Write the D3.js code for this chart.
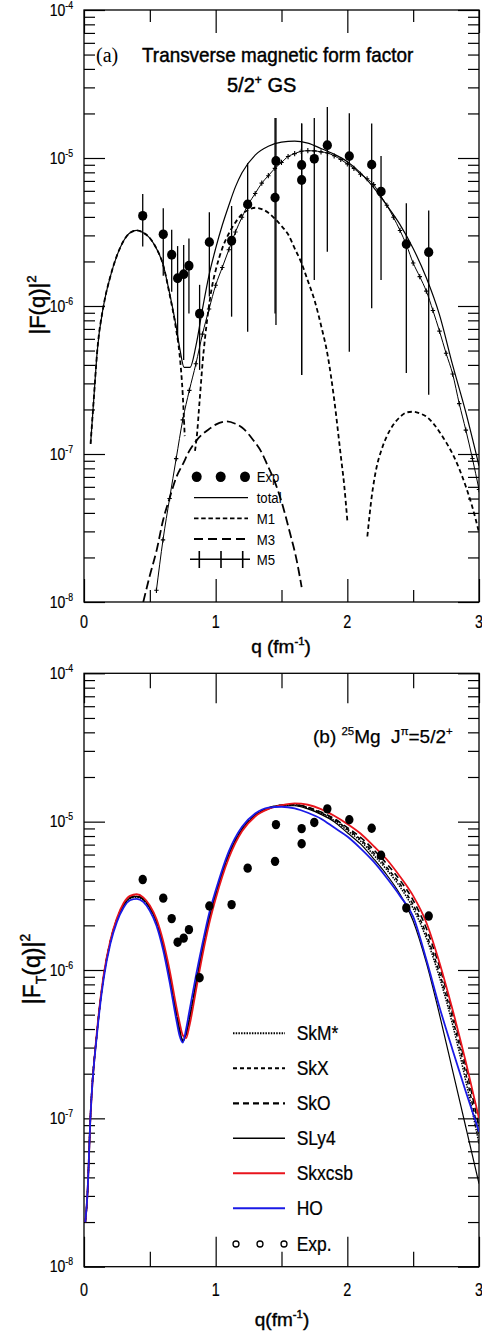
<!DOCTYPE html>
<html><head><meta charset="utf-8">
<script src="https://cdn.jsdelivr.net/npm/d3@7"></script>
<style>body{margin:0;background:#fff}svg{display:block}text{white-space:pre}</style>
</head><body>
<svg id="c" width="482" height="1335"></svg>
<script>
// ---------------- data ----------------
const expQ  = [0.446,0.602,0.666,0.711,0.757,0.797,0.878,0.952,1.121,1.243,1.451,1.458,1.653,1.653,1.749,1.848,2.015,2.185,2.256,2.448,2.618];
const expF  = [4.07e-6,3.05e-6,2.22e-6,1.54e-6,1.64e-6,1.87e-6,8.87e-7,2.70e-6,2.76e-6,4.86e-6,5.40e-6,9.55e-6,8.97e-6,7.10e-6,9.88e-6,1.22e-5,1.03e-5,9.02e-6,5.93e-6,2.62e-6,2.31e-6];
const expHi = [5.71e-6,4.57e-6,3.27e-6,2.54e-6,2.58e-6,2.86e-6,1.39e-6,4.30e-6,4.74e-6,9.2e-6,1.86e-5,1.86e-5,1.71e-5,1.71e-5,1.86e-5,2.21e-5,2.01e-5,1.71e-5,1.03e-5,4.94e-6,4.41e-6];
const expLo = [2.52e-6,1.60e-6,1.25e-6,5.89e-7,4.32e-7,8.9e-7,3.70e-7,1.16e-6,8.47e-7,6.70e-7,8.9e-7,7.45e-7,3.42e-7,3.42e-7,1.50e-6,2.33e-6,4.91e-7,9.64e-7,1.50e-6,3.52e-7,2.51e-7];

const totalQ = [0.05,0.075,0.1,0.15,0.2,0.25,0.3,0.35,0.4,0.45,0.5,0.55,0.6,0.65,0.7,0.73,0.76,0.805,0.85,0.9,0.95,1.0,1.05,1.1,1.15,1.2,1.3,1.4,1.5,1.6,1.7,1.8,1.9,2.0,2.1,2.2,2.3,2.4,2.5,2.6,2.7,2.8,2.9,3.0];
const totalF = [1.17e-7,2.40e-7,4.90e-7,1.02e-6,1.58e-6,2.19e-6,2.75e-6,3.13e-6,3.24e-6,3.13e-6,2.88e-6,2.45e-6,1.91e-6,1.22e-6,7.24e-7,5.01e-7,3.85e-7,3.85e-7,5.37e-7,9.55e-7,1.62e-6,2.45e-6,3.51e-6,4.79e-6,6.38e-6,7.94e-6,1.047e-5,1.20e-5,1.28e-5,1.30e-5,1.26e-5,1.16e-5,1.06e-5,9.44e-6,7.94e-6,6.31e-6,4.79e-6,3.55e-6,2.45e-6,1.55e-6,8.71e-7,3.98e-7,1.91e-7,8.32e-8];

const m1aQ = [0.05,0.075,0.1,0.15,0.2,0.25,0.3,0.35,0.4,0.45,0.5,0.55,0.6,0.65,0.7,0.725,0.75,0.765];
const m1aF = [1.17e-7,2.40e-7,4.90e-7,1.02e-6,1.58e-6,2.19e-6,2.75e-6,3.13e-6,3.24e-6,3.13e-6,2.88e-6,2.45e-6,1.91e-6,1.20e-6,6.92e-7,4.79e-7,2.51e-7,1.32e-7];
const m1bQ = [0.843,0.86,0.873,0.886,0.9,0.92,0.94,0.97,1.0,1.05,1.1,1.15,1.2,1.25,1.3,1.35,1.4,1.45,1.5,1.55,1.6,1.65,1.7,1.75,1.8,1.85,1.9,1.95,1.975,2.0];
const m1bF = [1.05e-7,1.41e-7,2.00e-7,2.82e-7,4.07e-7,6.17e-7,8.71e-7,1.32e-6,1.74e-6,2.45e-6,3.09e-6,3.67e-6,4.17e-6,4.47e-6,4.61e-6,4.52e-6,4.27e-6,3.89e-6,3.47e-6,3.05e-6,2.45e-6,1.97e-6,1.48e-6,1.10e-6,7.41e-7,4.68e-7,2.34e-7,9.77e-8,6.31e-8,3.55e-8];
const m1cQ = [2.152,2.185,2.223,2.26,2.3,2.35,2.4,2.45,2.5,2.55,2.6,2.65,2.7,2.75,2.8,2.85,2.9,2.95,3.0];
const m1cF = [2.77e-8,5.13e-8,8.20e-8,1.07e-7,1.32e-7,1.58e-7,1.78e-7,1.91e-7,1.93e-7,1.88e-7,1.79e-7,1.62e-7,1.41e-7,1.20e-7,1.00e-7,7.94e-8,6.03e-8,4.37e-8,2.95e-8];

const m3Q = [0.45,0.5,0.552,0.6,0.653,0.7,0.754,0.8,0.856,0.957,1.0,1.084,1.15,1.2,1.286,1.35,1.387,1.45,1.489,1.565,1.615,1.653];
const m3F = [1.00e-8,1.51e-8,2.24e-8,3.55e-8,5.13e-8,6.92e-8,8.65e-8,1.05e-7,1.24e-7,1.49e-7,1.58e-7,1.66e-7,1.60e-7,1.51e-7,1.24e-7,1.02e-7,8.65e-8,6.46e-8,5.13e-8,2.91e-8,1.92e-8,1.26e-8];

const m5Q = [0.55,0.6,0.65,0.7,0.75,0.8,0.85,0.9,0.95,1.0,1.05,1.1,1.15,1.2,1.25,1.3,1.35,1.4,1.45,1.5,1.55,1.6,1.65,1.7,1.75,1.8,1.85,1.9,1.95,2.0,2.05,2.1,2.15,2.2,2.25,2.3,2.35,2.4,2.45,2.5,2.55,2.6,2.65,2.7,2.75,2.8,2.85,2.9,2.95,3.0];
const m5F = [1.20e-8,2.63e-8,5.0e-8,9.3e-8,1.70e-7,2.69e-7,4.07e-7,6.46e-7,9.55e-7,1.38e-6,1.82e-6,2.40e-6,3.16e-6,3.98e-6,4.90e-6,5.75e-6,6.76e-6,7.59e-6,8.51e-6,9.33e-6,1.023e-5,1.07e-5,1.11e-5,1.12e-5,1.117e-5,1.10e-5,1.08e-5,1.035e-5,9.77e-6,9.12e-6,8.51e-6,7.76e-6,7.24e-6,6.61e-6,5.62e-6,4.79e-6,3.98e-6,3.24e-6,2.57e-6,1.95e-6,1.58e-6,1.26e-6,9.33e-7,6.76e-7,4.79e-7,3.47e-7,2.19e-7,1.45e-7,9.33e-8,5.75e-8];

// panel (b) models on a common q grid
const modelQ = [0.01,0.025,0.05,0.1,0.15,0.2,0.25,0.3,0.35,0.4,0.45,0.5,0.55,0.6,0.65,0.7,0.725,0.75,0.775,0.8,0.85,0.9,0.95,1.0,1.1,1.2,1.3,1.4,1.5,1.6,1.7,1.8,1.9,2.0,2.1,2.2,2.3,2.4,2.5,2.6,2.7,2.8,2.9,3.0];
const skmStarF = [2.00e-8,2.95e-8,1.07e-7,3.87e-7,9.05e-7,1.54e-6,2.17e-6,2.70e-6,3.03e-6,3.10e-6,2.96e-6,2.60e-6,2.08e-6,1.46e-6,9.00e-7,5.08e-7,3.95e-7,3.30e-7,3.68e-7,4.60e-7,8.00e-7,1.36e-6,2.21e-6,3.21e-6,5.98e-6,8.85e-6,1.105e-5,1.225e-5,1.285e-5,1.29e-5,1.235e-5,1.135e-5,1.02e-5,8.71e-6,7.41e-6,5.96e-6,4.73e-6,3.63e-6,2.60e-6,1.64e-6,8.91e-7,4.27e-7,1.78e-7,6.76e-8];
const skxF = [2.00e-8,2.95e-8,1.07e-7,3.89e-7,9.12e-7,1.55e-6,2.19e-6,2.72e-6,3.05e-6,3.13e-6,2.99e-6,2.63e-6,2.11e-6,1.48e-6,9.12e-7,5.13e-7,3.98e-7,3.31e-7,3.72e-7,4.68e-7,8.13e-7,1.38e-6,2.24e-6,3.24e-6,6.03e-6,8.91e-6,1.109e-5,1.23e-5,1.29e-5,1.30e-5,1.245e-5,1.148e-5,1.035e-5,8.91e-6,7.59e-6,6.17e-6,4.90e-6,3.80e-6,2.75e-6,1.74e-6,9.55e-7,4.68e-7,2.00e-7,7.59e-8];
const skoF = [2.00e-8,2.95e-8,1.07e-7,3.92e-7,9.20e-7,1.56e-6,2.21e-6,2.75e-6,3.08e-6,3.16e-6,3.02e-6,2.66e-6,2.14e-6,1.51e-6,9.30e-7,5.20e-7,4.02e-7,3.34e-7,3.70e-7,4.60e-7,7.90e-7,1.35e-6,2.20e-6,3.20e-6,5.98e-6,8.87e-6,1.108e-5,1.235e-5,1.295e-5,1.30e-5,1.25e-5,1.16e-5,1.05e-5,9.12e-6,7.85e-6,6.46e-6,5.19e-6,4.03e-6,2.95e-6,1.91e-6,1.05e-6,5.13e-7,2.24e-7,8.71e-8];
const sly4F = [2.00e-8,2.95e-8,1.07e-7,3.90e-7,9.15e-7,1.55e-6,2.19e-6,2.73e-6,3.06e-6,3.14e-6,3.00e-6,2.64e-6,2.12e-6,1.49e-6,9.20e-7,5.16e-7,4.00e-7,3.32e-7,3.70e-7,4.64e-7,8.05e-7,1.37e-6,2.22e-6,3.22e-6,6.00e-6,8.88e-6,1.10e-5,1.22e-5,1.28e-5,1.28e-5,1.22e-5,1.12e-5,1.00e-5,8.41e-6,7.08e-6,5.62e-6,4.37e-6,3.24e-6,2.14e-6,1.12e-6,5.01e-7,2.09e-7,8.71e-8,3.63e-8];
const skxcsbF = [2.00e-8,2.95e-8,1.07e-7,3.98e-7,9.33e-7,1.58e-6,2.24e-6,2.82e-6,3.16e-6,3.24e-6,3.09e-6,2.72e-6,2.21e-6,1.58e-6,1.00e-6,5.75e-7,4.47e-7,3.63e-7,3.47e-7,4.17e-7,7.24e-7,1.26e-6,2.04e-6,3.02e-6,5.69e-6,8.61e-6,1.084e-5,1.216e-5,1.29e-5,1.33e-5,1.30e-5,1.216e-5,1.096e-5,9.66e-6,8.32e-6,6.84e-6,5.56e-6,4.27e-6,3.16e-6,2.09e-6,1.12e-6,5.37e-7,2.40e-7,1.00e-7];
const hoF = [2.00e-8,2.95e-8,1.07e-7,3.80e-7,8.81e-7,1.50e-6,2.11e-6,2.63e-6,2.95e-6,3.02e-6,2.88e-6,2.51e-6,2.00e-6,1.38e-6,8.32e-7,4.68e-7,3.63e-7,3.24e-7,3.98e-7,5.25e-7,9.12e-7,1.51e-6,2.40e-6,3.43e-6,6.31e-6,9.23e-6,1.135e-5,1.245e-5,1.26e-5,1.23e-5,1.148e-5,1.047e-5,9.12e-6,7.94e-6,6.61e-6,5.37e-6,4.17e-6,3.16e-6,2.29e-6,1.175e-6,5.62e-7,2.88e-7,1.51e-7,8.13e-8];

const legendA = ["Exp","total","M1","M3","M5"];
const legendB = ["SkM*","SkX","SkO","SLy4","Skxcsb","HO","Exp."];
const xTickVals = [0,1,2,3];
const xMinorVals = [0.5,1.5,2.5];
const yDecades = [-8,-7,-6,-5,-4];

// ---------------- helpers ----------------
const svg = d3.select("#c");
const SANS = "'Liberation Sans', Arial, Helvetica, sans-serif";
const SERIF = "'Liberation Serif', 'Times New Roman', serif";

function label(parent, x, y, parts, o = {}) {
  const size = o.size || 14;
  const t = parent.append("text")
    .attr("transform", `translate(${x},${y})` + (o.rot ? ` rotate(${o.rot})` : "") + ` scale(${o.sx || 1},1)`)
    .attr("text-anchor", o.anchor || "start")
    .attr("font-family", o.family || SANS)
    .attr("font-size", size)
    .attr("fill", "#000");
  if (o.stroke) t.attr("stroke", "#000").attr("stroke-width", o.stroke);
  const subScale = o.subScale || 0.6;
  let shift = 0;
  for (const p of parts) {
    const [s, k] = Array.isArray(p) ? p : [p, ""];
    const target = k === "sup" ? -0.42 * size : (k === "sub" ? 0.28 * size : 0);
    t.append("tspan").attr("dy", target - shift).attr("font-size", k ? size * subScale : size).text(s);
    shift = target;
  }
  return t;
}

function panel(x, y, id, xMajLen, xMinLen, labelY) {
  const g = svg.append("g");
  const [x0, x1] = x.range();
  const [y0, y1] = y.range(); // y0 bottom, y1 top
  g.append("clipPath").attr("id", id).append("rect")
    .attr("x", x0).attr("y", y1).attr("width", x1 - x0).attr("height", y0 - y1);
  const yMaj = yDecades.map(d => Math.pow(10, d));
  const yMin = [];
  yDecades.slice(0, -1).forEach(d => { for (let k = 2; k <= 9; k++) yMin.push(k * Math.pow(10, d)); });
  const styleAxis = sel => { sel.select(".domain").remove(); sel.selectAll("line").attr("stroke", "#000").attr("stroke-width", 1.2); sel.selectAll("text").remove(); };
  g.append("g").attr("transform", `translate(${x0},0)`).call(d3.axisLeft(y).tickValues(yMaj).tickSize(-21)).call(styleAxis);
  g.append("g").attr("transform", `translate(${x0},0)`).call(d3.axisLeft(y).tickValues(yMin).tickSize(-11)).call(styleAxis);
  g.append("g").attr("transform", `translate(${x1},0)`).call(d3.axisRight(y).tickValues(yMaj).tickSize(-21)).call(styleAxis);
  g.append("g").attr("transform", `translate(${x1},0)`).call(d3.axisRight(y).tickValues(yMin).tickSize(-11)).call(styleAxis);
  g.append("g").attr("transform", `translate(0,${y0})`).call(d3.axisBottom(x).tickValues(xTickVals).tickSize(-xMajLen)).call(styleAxis);
  g.append("g").attr("transform", `translate(0,${y0})`).call(d3.axisBottom(x).tickValues(xMinorVals).tickSize(-xMinLen)).call(styleAxis);
  g.append("g").attr("transform", `translate(0,${y1})`).call(d3.axisTop(x).tickValues(xTickVals).tickSize(-xMajLen)).call(styleAxis);
  g.append("g").attr("transform", `translate(0,${y1})`).call(d3.axisTop(x).tickValues(xMinorVals).tickSize(-xMinLen)).call(styleAxis);
  g.append("rect").attr("x", x0).attr("y", y1).attr("width", x1 - x0).attr("height", y0 - y1)
    .attr("fill", "none").attr("stroke", "#000").attr("stroke-width", 1.3);
  yDecades.forEach(d => label(g, 73, y(Math.pow(10, d)) + 5.5, ["10", ["-" + Math.abs(d), "sup"]], {size: 16.5, sx: 0.85, anchor: "end", subScale: 0.62, stroke: 0.2}));
  xTickVals.forEach(v => label(g, x(v), labelY, [String(v)], {size: 18, sx: 0.8, anchor: "middle", stroke: 0.2}));
  return g;
}

function drawLine(g, x, y, qs, fs, st) {
  const line = d3.line().x(d => x(d[0])).y(d => y(d[1])).curve(d3.curveMonotoneX);
  return g.append("path").datum(d3.zip(qs, fs)).attr("d", line)
    .attr("fill", "none").attr("stroke", st.color || "#000").attr("stroke-width", st.width || 1.2)
    .attr("stroke-dasharray", st.dash || null);
}

// ---------------- panel (a) ----------------
const xA = d3.scaleLinear().domain([0, 3]).range([84, 479]);
const yA = d3.scaleLog().domain([1e-8, 1e-4]).range([602, 10]);
const gA = panel(xA, yA, "clipA", 23, 12, 628);
const cA = gA.append("g").attr("clip-path", "url(#clipA)");

drawLine(cA, xA, yA, totalQ, totalF, {width: 1.2});
drawLine(cA, xA, yA, m1aQ, m1aF, {width: 1.8, dash: "4.5,3"});
drawLine(cA, xA, yA, m1bQ, m1bF, {width: 1.8, dash: "4.5,3"});
drawLine(cA, xA, yA, m1cQ, m1cF, {width: 1.8, dash: "4.5,3"});
drawLine(cA, xA, yA, m3Q, m3F, {width: 1.8, dash: "9,4"});
drawLine(cA, xA, yA, m5Q, m5F, {width: 1.0});
// M5 + markers
const m5pts = d3.zip(m5Q, m5F);
cA.selectAll("path.m5mark").data(m5pts).join("path").attr("class", "m5mark")
  .attr("d", d => { const px = xA(d[0]), py = yA(d[1]); return `M${px - 2.2},${py}H${px + 2.2}M${px},${py - 2.6}V${py + 2.6}`; })
  .attr("stroke", "#000").attr("stroke-width", 1.1);
// error bars + points
const expPts = d3.zip(expQ, expF, expLo, expHi);
cA.selectAll("line.err").data(expPts).join("line").attr("class", "err")
  .attr("x1", d => xA(d[0])).attr("x2", d => xA(d[0]))
  .attr("y1", d => yA(d[2])).attr("y2", d => yA(d[3]))
  .attr("stroke", "#000").attr("stroke-width", 1.3);
cA.selectAll("ellipse.pt").data(expPts).join("ellipse").attr("class", "pt")
  .attr("cx", d => xA(d[0])).attr("cy", d => yA(d[1])).attr("rx", 4.6).attr("ry", 4.9).attr("fill", "#000");

// legend (a)
const lgA = gA.append("g");
[196.7, 220.7, 245].forEach(cx => lgA.append("ellipse").attr("cx", cx).attr("cy", 476.7).attr("rx", 5).attr("ry", 5.3).attr("fill", "#000"));
lgA.append("line").attr("x1", 194).attr("x2", 248).attr("y1", 497.7).attr("y2", 497.7).attr("stroke", "#000").attr("stroke-width", 1.2);
lgA.append("line").attr("x1", 194).attr("x2", 248).attr("y1", 518.3).attr("y2", 518.3).attr("stroke", "#000").attr("stroke-width", 1.8).attr("stroke-dasharray", "4.5,2.7");
lgA.append("line").attr("x1", 194).attr("x2", 248).attr("y1", 539).attr("y2", 539).attr("stroke", "#000").attr("stroke-width", 1.8).attr("stroke-dasharray", "9,5");
lgA.append("line").attr("x1", 190).attr("x2", 250).attr("y1", 559.3).attr("y2", 559.3).attr("stroke", "#000").attr("stroke-width", 1.4);
[199.3, 221, 242.7].forEach(tx => lgA.append("line").attr("x1", tx).attr("x2", tx).attr("y1", 551).attr("y2", 568).attr("stroke", "#000").attr("stroke-width", 1.6));
[476.7, 497.7, 518.3, 539, 559.3].forEach((ly, i) => label(lgA, 256.7, ly + 5.5, [legendA[i]], {size: 15.5, sx: 0.85}));

// titles (a)
label(svg, 96, 62, ["(a)"], {size: 20, family: SERIF});
label(svg, 142, 62, ["Transverse magnetic form factor"], {size: 21, sx: 0.9, stroke: 0.45});
label(svg, 227, 92, ["5/2", ["+", "sup"], " GS"], {size: 20, stroke: 0.45});
label(svg, 281, 653, ["q (fm", ["-1", "sup"], ")"], {size: 19, anchor: "middle", stroke: 0.4});
label(svg, 45, 305, ["|F(q)|", ["2", "sup"]], {size: 22, anchor: "middle", rot: -90, stroke: 0.45});

// ---------------- panel (b) ----------------
const xB = d3.scaleLinear().domain([0, 3]).range([84, 479]);
const yB = d3.scaleLog().domain([1e-8, 1e-4]).range([1266.7, 673.3]);
const gB = panel(xB, yB, "clipB", 30, 15, 1296);
const cB = gB.append("g").attr("clip-path", "url(#clipB)");

const modelStyles = [
  {f: sly4F, st: {width: 1.2}},
  {f: skmStarF, st: {width: 1.5, dash: "1.5,1.2"}},
  {f: skxF, st: {width: 1.5, dash: "4,3"}},
  {f: skoF, st: {width: 1.6, dash: "6,4"}},
  {f: skxcsbF, st: {width: 1.8, color: "#e8141c"}},
  {f: hoF, st: {width: 1.8, color: "#1a1ae6"}}
];
modelStyles.forEach(m => drawLine(cB, xB, yB, modelQ, m.f, m.st));
cB.selectAll("ellipse.pt").data(d3.zip(expQ, expF)).join("ellipse").attr("class", "pt")
  .attr("cx", d => xB(d[0])).attr("cy", d => yB(d[1])).attr("rx", 4.2).attr("ry", 4.7).attr("fill", "#000");

// legend (b)
const lgB = gB.append("g");
const lgBStyles = [
  {dash: "1.5,1.2", width: 2, color: "#000"},
  {dash: "4,3", width: 2, color: "#000"},
  {dash: "6,4", width: 2.3, color: "#000"},
  {dash: null, width: 1.5, color: "#000"},
  {dash: null, width: 2, color: "#e8141c"},
  {dash: null, width: 2, color: "#1a1ae6"}
];
const lgBy = [1033.3, 1068.3, 1103.3, 1138.3, 1173.3, 1208.3, 1244];
lgBStyles.forEach((s, i) => lgB.append("line").attr("x1", 233).attr("x2", 285).attr("y1", lgBy[i]).attr("y2", lgBy[i])
  .attr("stroke", s.color).attr("stroke-width", s.width).attr("stroke-dasharray", s.dash));
[236, 260, 284].forEach(cx => lgB.append("circle").attr("cx", cx).attr("cy", 1244).attr("r", 3).attr("fill", "none").attr("stroke", "#000").attr("stroke-width", 1.3));
lgBy.forEach((ly, i) => label(lgB, 296.7, ly + 7, [legendB[i]], {size: 20.5, sx: 0.85, stroke: 0.25}));

// titles (b)
label(svg, 313, 743, ["(b) ", ["25", "sup"], "Mg  J", ["π", "sup"], "=5/2", ["+", "sup"]], {size: 19, stroke: 0.25});
label(svg, 282, 1326, ["q(fm", ["-1", "sup"], ")"], {size: 19, anchor: "middle", stroke: 0.4});
label(svg, 40, 969, ["|F", ["T", "sub"], "(q)|", ["2", "sup"]], {size: 23, anchor: "middle", rot: -90, stroke: 0.45});
</script>
</body></html>
